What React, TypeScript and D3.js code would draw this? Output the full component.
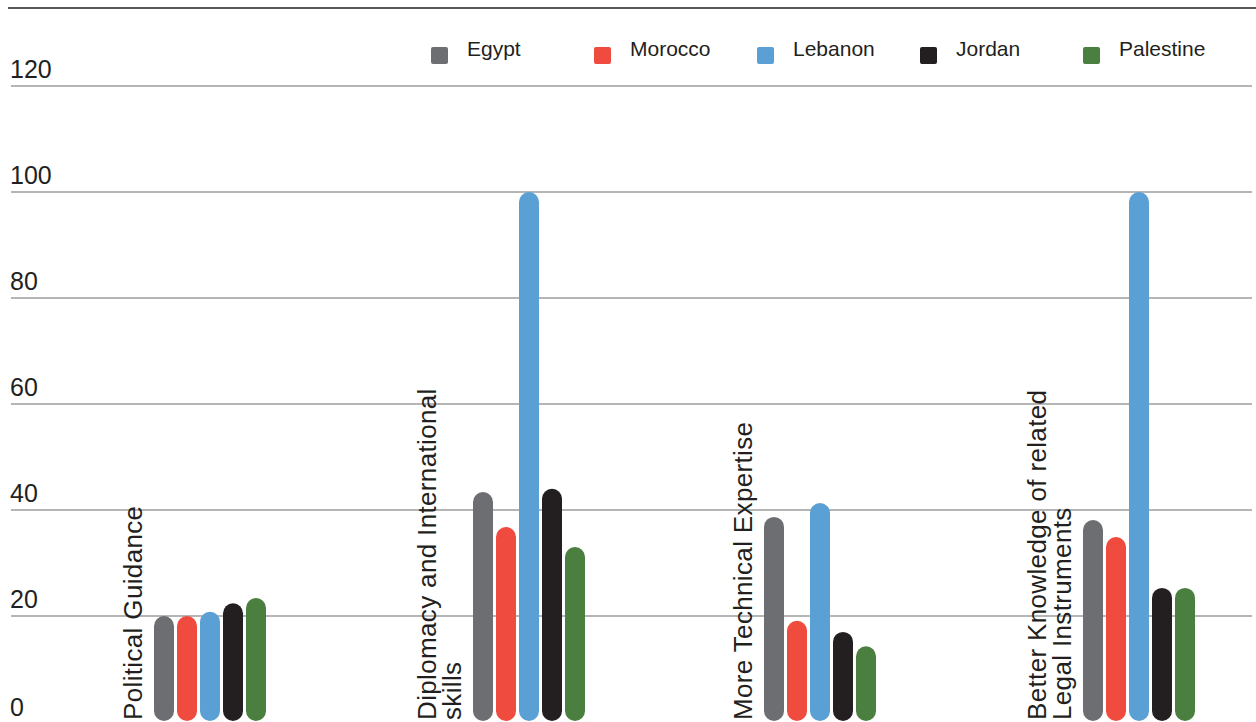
import { useMemo } from 'react';
import * as d3 from 'd3';

// categories (each entry is the lines of the rotated label)
const categories: string[][] = [
  ['Political Guidance'],
  ['Diplomacy and International', 'skills'],
  ['More Technical Expertise'],
  ['Better Knowledge of related', 'Legal Instruments'],
];

const countries = ['Egypt', 'Morocco', 'Lebanon', 'Jordan', 'Palestine'];
const colors = ['#6d6e71', '#ef4b3f', '#5ba0d5', '#231f20', '#4a7f3f'];

// values per country, in category order
const egypt = [20, 43.4, 38.7, 38.1];
const morocco = [20, 36.8, 19.1, 34.9];
const lebanon = [20.8, 100, 41.3, 100];
const jordan = [22.4, 44, 17, 25.3];
const palestine = [23.4, 33, 14.3, 25.3];

const yTicks = [0, 20, 40, 60, 80, 100, 120];

const series = [egypt, morocco, lebanon, jordan, palestine];

export default function App() {
  const width = 1256;
  const height = 722;
  const font = '"Liberation Sans", Arial, Helvetica, sans-serif';
  const ink = '#231f20';

  const y = d3.scaleLinear().domain([0, 120]).range([722, 86]);

  // group layout: a fixed step per group plus room for every extra label line
  const firstGroup = 154;
  const groupStep = 291;
  const lineHeight = 28;
  const groupX = useMemo(() => {
    let extra = 0;
    return categories.map((lines, i) => {
      extra += lines.length - 1;
      return firstGroup + i * groupStep + extra * lineHeight;
    });
  }, []);

  const barW = 20;
  const inner = d3.scaleBand<string>()
    .domain(countries)
    .range([0, countries.length * 23 - 3])
    .paddingInner(3 / 23);

  const legendX = d3.scalePoint<string>()
    .domain(countries)
    .range([431, 431 + 163 * 4]);

  return (
    <svg
      width={width}
      height={height}
      style={{ position: 'absolute', left: 0, top: 0, background: '#fff' }}
      fontFamily={font}
    >
      <rect width={width} height={height} fill="#fff" />
      <line x1={8} x2={width} y1={8} y2={8} stroke={ink} strokeWidth={1.6} />

      {yTicks.map(t => (
        <g key={t}>
          {t > 0 && (
            <line x1={11} x2={1252} y1={y(t)} y2={y(t)} stroke="#9d9d9d" strokeWidth={1.4} />
          )}
          <text x={10} y={y(t) - (t === 0 ? 6 : 8)} fontSize={25} fill={ink}>{t}</text>
        </g>
      ))}

      {countries.map((c, i) => (
        <g key={c}>
          <rect x={legendX(c)} y={47} width={17} height={17} rx={2} fill={colors[i]} />
          <text x={(legendX(c) ?? 0) + 36} y={56} fontSize={21} fill={ink}>{c}</text>
        </g>
      ))}

      {categories.map((lines, gi) => {
        const gx = groupX[gi];
        const lastBase = gx - 12;
        return (
          <g key={gi}>
            {lines.map((ln, li) => (
              <text
                key={li}
                transform={`translate(${lastBase - (lines.length - 1 - li) * 25},720) rotate(-90)`}
                fontSize={26}
                letterSpacing={0.35}
                fill={ink}
              >
                {ln}
              </text>
            ))}
            {countries.map((c, ci) => {
              const v = series[ci][gi];
              const top = y(v);
              return (
                <rect
                  key={c}
                  x={gx + (inner(c) ?? 0)}
                  y={top}
                  width={barW}
                  height={y(0) - 1 - top}
                  rx={barW / 2}
                  fill={colors[ci]}
                />
              );
            })}
          </g>
        );
      })}
    </svg>
  );
}
